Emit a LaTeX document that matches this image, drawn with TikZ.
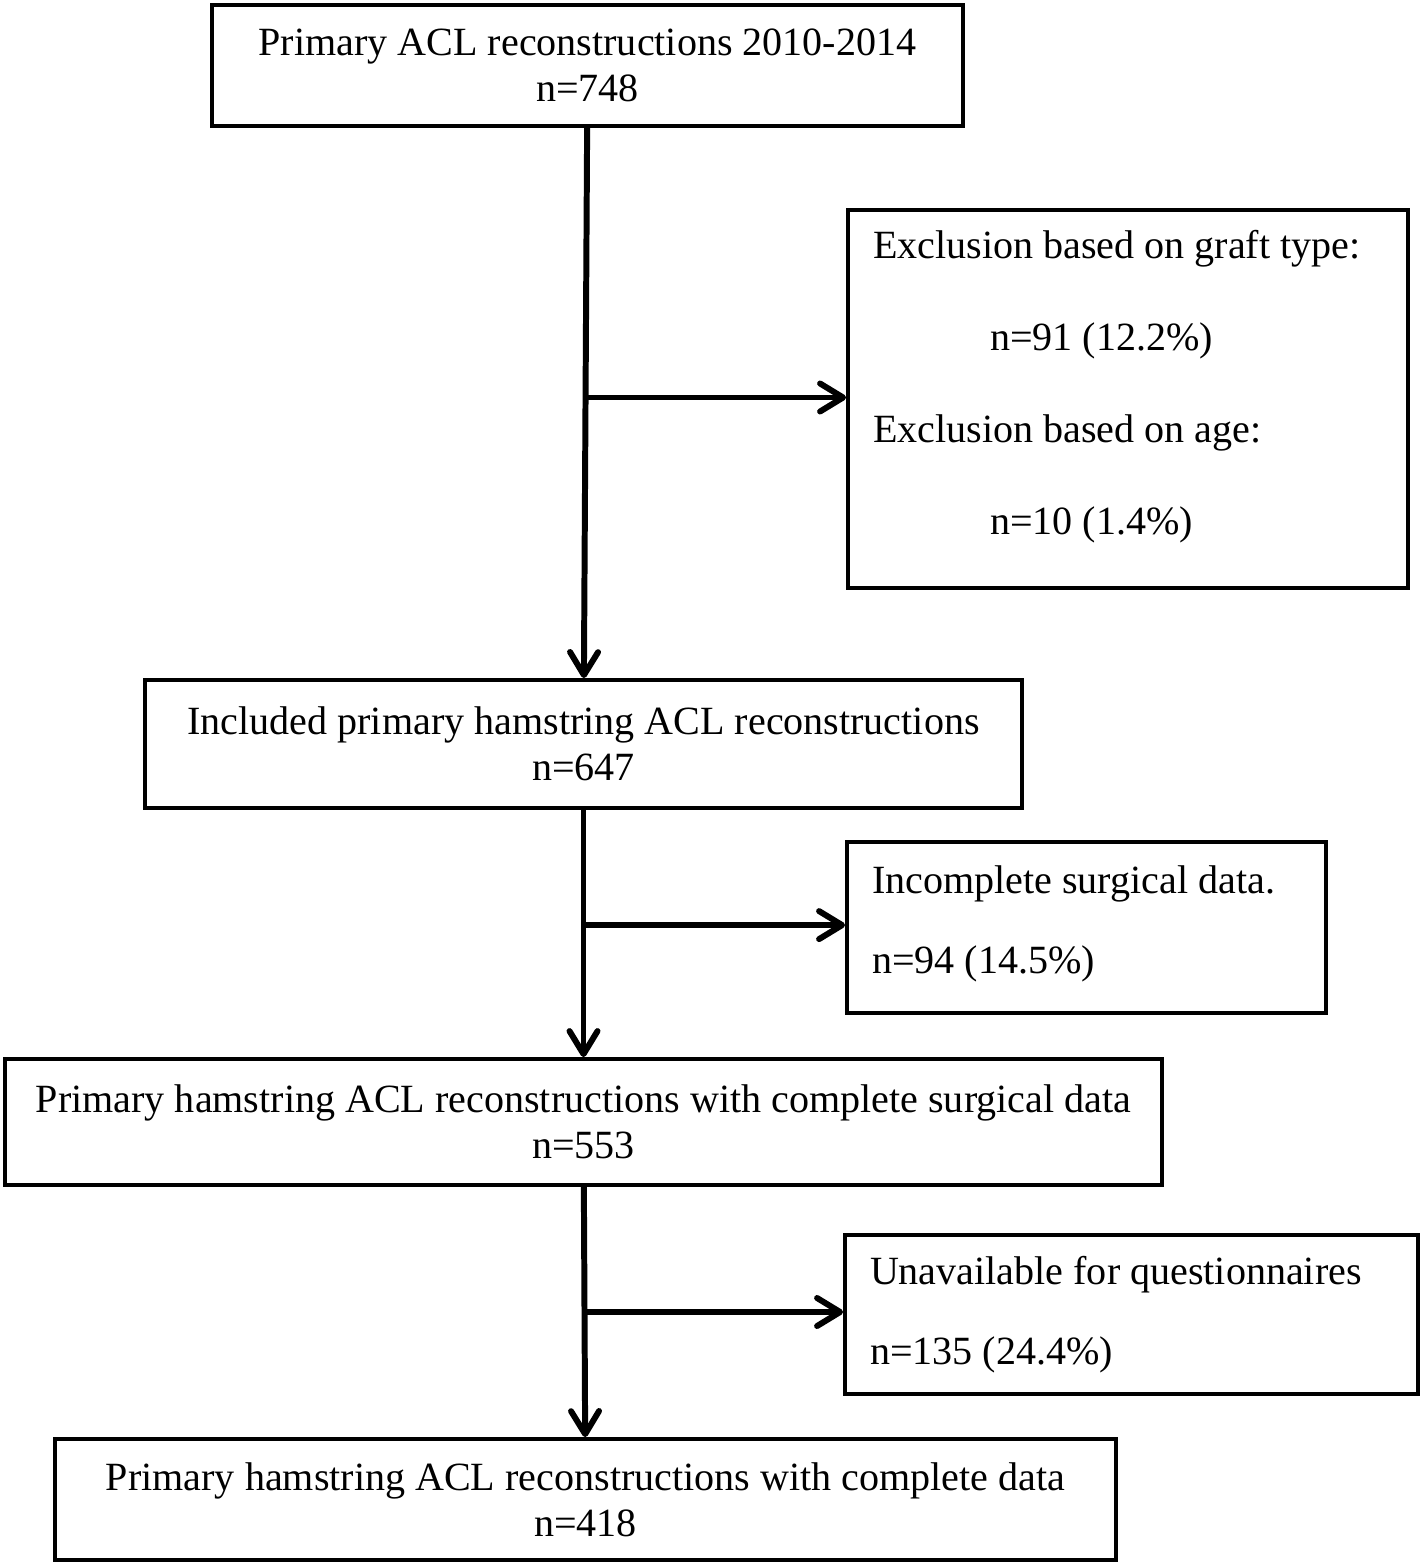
\documentclass[tikz,border=0pt]{standalone}
\usepackage{fontspec}
\setmainfont{Liberation Serif}
\usetikzlibrary{arrows.meta}
\tikzstyle{mainbox}=[rectangle, draw, line width=1.1pt, align=center, inner sep=0pt, font=\fontsize{11.4}{13.1}\selectfont]
\tikzstyle{sidebox}=[rectangle, draw, line width=1.1pt, align=flush left, inner xsep=0.25cm, inner ysep=0pt]
\tikzstyle{flow}=[line width=1.7pt, -{Straight Barb[length=2.3mm,width=2.8mm,round]}]

\begin{document}
\begin{tikzpicture}
\useasboundingbox (0,0) rectangle (14.24,-15.65);

\node[mainbox, minimum width=7.51cm, minimum height=1.21cm] (all) at (5.875,-0.655) {Primary ACL reconstructions 2010-2014\\n=748};
\node[sidebox, minimum height=3.78cm, text width=5.10cm, font=\fontsize{11.4}{26.2}\selectfont] (excl) at (11.28,-3.99) {Exclusion based on graft type:\\\hspace*{1.17cm}n=91 (12.2\%)\\Exclusion based on age:\\\hspace*{1.17cm}n=10 (1.4\%)\par\kern0.24cm};
\node[mainbox, minimum width=8.77cm, minimum height=1.28cm] (incl) at (5.835,-7.44) {Included primary hamstring ACL reconstructions\\n=647};
\node[sidebox, minimum height=1.71cm, text width=4.29cm, font=\fontsize{11.4}{22.8}\selectfont] (incs) at (10.865,-9.275) {Incomplete surgical data.\\n=94 (14.5\%)\par\kern0.08cm};
\node[mainbox, minimum width=11.57cm, minimum height=1.26cm] (surg) at (5.835,-11.22) {Primary hamstring ACL reconstructions with complete surgical data\\n=553};
\node[sidebox, minimum height=1.59cm, text width=5.23cm, font=\fontsize{11.4}{22.8}\selectfont] (unav) at (11.315,-13.145) {Unavailable for questionnaires\\n=135 (24.4\%)};
\node[mainbox, minimum width=10.61cm, minimum height=1.21cm] (comp) at (5.855,-14.995) {Primary hamstring ACL reconstructions with complete data\\n=418};

\draw[flow] (all) -- coordinate[pos=0.49] (k1) (incl);
\draw[flow] (k1) -- (k1 -| excl.west);
\draw[flow] (incl) -- coordinate[pos=0.466] (k2) (surg);
\draw[flow] (k2) -- (k2 -| incs.west);
\draw[flow] (surg) -- coordinate[pos=0.5] (k3) (comp);
\draw[flow] (k3) -- (k3 -| unav.west);

\end{tikzpicture}
\end{document}
